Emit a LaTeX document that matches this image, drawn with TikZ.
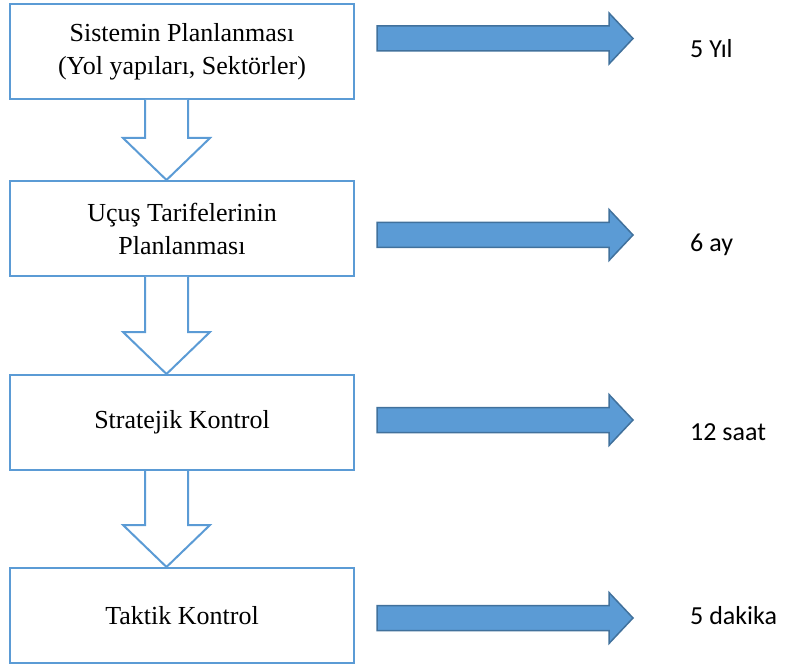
\documentclass[tikz,border=0pt]{standalone}
\usepackage{fontspec}
\setmainfont{Liberation Serif}
\newfontfamily\labelfont{Carlito}
\usetikzlibrary{calc}
\definecolor{accent}{HTML}{5B9BD5}
\definecolor{accentdark}{HTML}{41719C}
\tikzset{
  stagebox/.style={draw=accent, line width=2pt, fill=white, minimum width=344pt,
    minimum height=95pt, inner sep=0pt, align=center,
    font=\fontsize{26}{33}\selectfont},
  hollow/.style={draw=accent, line width=2pt, fill=white, line join=miter},
  solidarrow/.style={draw=accentdark, line width=1.5pt, fill=accent, line join=miter},
  timelabel/.style={anchor=west, inner sep=0pt, font=\labelfont\fontsize{26}{30}\selectfont},
  pics/bigarrow/.style={code={
    \draw[solidarrow] (0,-12.5) -- (232,-12.5) -- (232,-25.5) -- (256,0)
      -- (232,25.5) -- (232,12.5) -- (0,12.5) -- cycle;}}
}
% hollow block arrow from the bottom of one stage to the top of the next
\newcommand{\stagelink}[2]{%
  \draw[hollow] ($(#1.south west)+(136,0)$) -- ($(#2.north west)+(136,-42)$)
    -- ($(#2.north west)+(114,-42)$) -- ($(#2.north west)+(157.5,0)$)
    -- ($(#2.north west)+(201,-42)$) -- ($(#2.north west)+(179,-42)$)
    -- ($(#1.south west)+(179,0)$);}
\begin{document}
\begin{tikzpicture}[x=1pt,y=-1pt]
  \useasboundingbox (0,0) rectangle (787,668);

  % planning stages
  \node[stagebox] (s1) at (182,51.5) {Sistemin Planlanması\\(Yol yapıları, Sektörler)};
  \node[stagebox] (s2) at (182,228.5) {Uçuş Tarifelerinin\\Planlanması};
  \node[stagebox] (s3) at (182,422.5) {Stratejik Kontrol};
  \node[stagebox] (s4) at (182,615.5) {Taktik Kontrol};

  \stagelink{s1}{s2}
  \stagelink{s2}{s3}
  \stagelink{s3}{s4}

  % time horizons
  \pic at (377,38.5) {bigarrow};
  \pic at (377,235) {bigarrow};
  \pic at (377,420) {bigarrow};
  \pic at (377,618) {bigarrow};

  \node[timelabel] (t1) at (690,49) {5 Yıl};
  \node[timelabel] (t2) at (690,245) {6 ay};
  \node[timelabel] (t3) at (690,432) {12 saat};
  \node[timelabel] (t4) at (690,616) {5 dakika};
\end{tikzpicture}
\end{document}
